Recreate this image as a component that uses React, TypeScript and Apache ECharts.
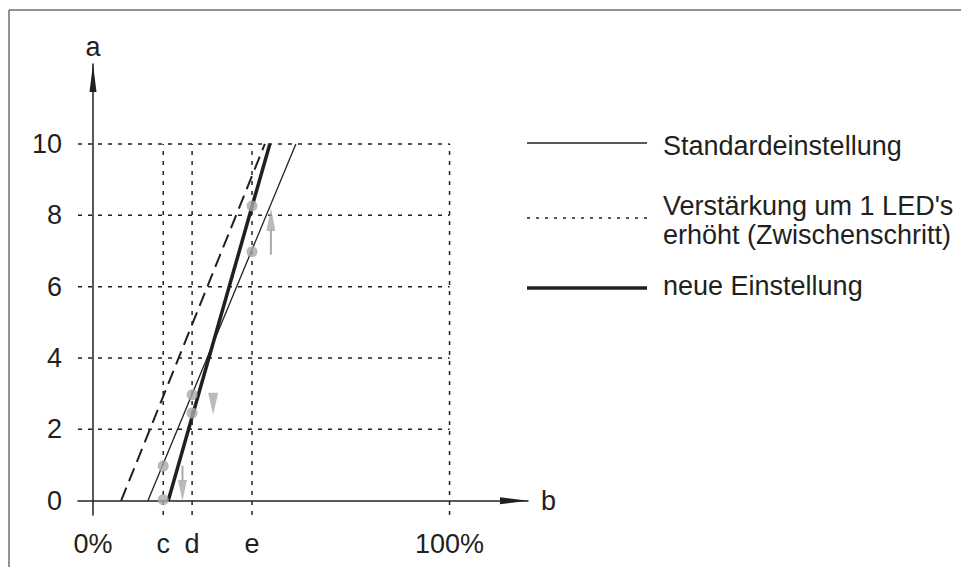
import React, { useEffect, useRef } from "react";
import * as echarts from "echarts";

// Axis extents (x in %, y in units)
const X_MIN = -4.2;
const X_MAX = 122;
const Y_MIN = -0.4;
const Y_MAX = 12.24;

const xTickValues = [0, 19.7, 27.8, 44.6, 100];
const xTickLabels = ["0%", "c", "d", "e", "100%"];
const yTickValues = [0, 2, 4, 6, 8, 10];

const gridYLevels = [2, 4, 6, 8, 10];
const gridXLevels = [19.7, 27.8, 44.6, 100];
const GRID_X_END = 100;
const GRID_Y_END = 10;

const standardLine = [[15.4, 0], [56.9, 10]];
const stepLine = [[7.9, 0], [48.2, 10]];
const newLine = [[21.1, 0], [49.6, 10]];

const dotX = [19.7, 19.7, 27.8, 27.8, 44.6, 44.6];
const dotY = [0.03, 0.97, 2.97, 2.46, 6.98, 8.26];

const upShaft = [[49.9, 6.9], [49.9, 7.6]];
const upHead = [49.9, 7.88];
const downHead1 = [33.7, 2.72];
const downShaft2 = [[25.1, 0.98], [25.1, 0.55]];
const downHead2 = [25.1, 0.29];

const legendLabels = [
  "Standardeinstellung",
  "Verstärkung um 1 LED's",
  "erhöht (Zwischenschritt)",
  "neue Einstellung",
];

const INK = "#231f20";
const GRAY = "#a7a9ac";
const FONT = "Liberation Sans, Arial, sans-serif";
const FS = 27;

export default function App() {
  const ref = useRef<HTMLDivElement>(null);

  useEffect(() => {
    if (!ref.current) return;
    const chart = echarts.init(ref.current, null, { renderer: "svg" });

    const dotted = { color: INK, width: 1.5, type: [4, 6] as any };

    const hGrid = gridYLevels.map((lvl) => ({
      type: "line",
      data: [[X_MIN, lvl], [GRID_X_END, lvl]],
      symbol: "none",
      silent: true,
      z: 1,
      lineStyle: dotted,
    }));
    const vGrid = gridXLevels.map((lvl) => ({
      type: "line",
      data: [[lvl, Y_MIN], [lvl, GRID_Y_END]],
      symbol: "none",
      silent: true,
      z: 1,
      lineStyle: dotted,
    }));

    const option: any = {
      animation: false,
      backgroundColor: "#ffffff",
      grid: { left: 78, right: 961 - 528, top: 64, bottom: 567 - 515, containLabel: false },
      xAxis: {
        type: "value",
        min: X_MIN,
        max: X_MAX,
        name: "b",
        nameLocation: "end",
        nameGap: 13,
        nameTextStyle: { fontSize: FS, color: INK, fontFamily: FONT, verticalAlign: "middle", padding: [5, 0, 0, 0] },
        axisLine: {
          show: true,
          onZero: true,
          symbol: ["none", "triangle"],
          symbolSize: [7, 28],
          symbolOffset: [0, -14],
          lineStyle: { color: INK, width: 1.5 },
        },
        axisTick: { show: false },
        splitLine: { show: false },
        axisLabel: {
          customValues: xTickValues,
          margin: 15,
          fontSize: FS,
          color: INK,
          fontFamily: FONT,
          formatter: (v: number) => {
            const i = xTickValues.findIndex((t) => Math.abs(t - v) < 1e-6);
            return i >= 0 ? xTickLabels[i] : "";
          },
        },
      },
      yAxis: {
        type: "value",
        min: Y_MIN,
        max: Y_MAX,
        name: "a",
        nameLocation: "end",
        nameGap: 4,
        nameTextStyle: { fontSize: FS, color: INK, fontFamily: FONT },
        axisLine: {
          show: true,
          onZero: true,
          symbol: ["none", "triangle"],
          symbolSize: [7, 28],
          symbolOffset: [0, -14],
          lineStyle: { color: INK, width: 1.5 },
        },
        axisTick: { show: false },
        splitLine: { show: false },
        axisLabel: {
          customValues: yTickValues,
          margin: 16,
          fontSize: FS,
          color: INK,
          fontFamily: FONT,
        },
      },
      series: [
        ...hGrid,
        ...vGrid,
        {
          name: "Standardeinstellung",
          type: "line",
          data: standardLine,
          symbol: "none",
          z: 3,
          lineStyle: { color: INK, width: 1.3 },
        },
        {
          name: "Zwischenschritt",
          type: "line",
          data: stepLine,
          symbol: "none",
          z: 3,
          lineStyle: { color: INK, width: 2, type: [14, 7] },
        },
        {
          name: "neue Einstellung",
          type: "line",
          data: newLine,
          symbol: "none",
          z: 3,
          lineStyle: { color: INK, width: 3.5 },
        },
        {
          type: "scatter",
          data: dotX.map((x, i) => [x, dotY[i]]),
          symbol: "circle",
          symbolSize: 11,
          z: 5,
          itemStyle: { color: GRAY },
        },
        {
          type: "line",
          data: upShaft,
          symbol: "none",
          z: 5,
          lineStyle: { color: GRAY, width: 2 },
        },
        {
          type: "line",
          data: downShaft2,
          symbol: "none",
          z: 5,
          lineStyle: { color: GRAY, width: 2 },
        },
        {
          type: "scatter",
          data: [upHead],
          symbol: "triangle",
          symbolSize: [9, 23],
          z: 5,
          itemStyle: { color: GRAY },
        },
        {
          type: "scatter",
          data: [downHead1],
          symbol: "triangle",
          symbolSize: [10, 22],
          symbolRotate: 180,
          z: 5,
          itemStyle: { color: GRAY },
        },
        {
          type: "scatter",
          data: [downHead2],
          symbol: "triangle",
          symbolSize: [9, 21],
          symbolRotate: 180,
          z: 5,
          itemStyle: { color: GRAY },
        },
      ],
      graphic: [
        // frame
        { type: "line", shape: { x1: 9, y1: 10, x2: 961, y2: 10 }, style: { stroke: "#6d6e71", lineWidth: 1.5 } },
        { type: "line", shape: { x1: 9, y1: 10, x2: 9, y2: 567 }, style: { stroke: "#6d6e71", lineWidth: 1.5 } },
        // legend samples
        { type: "line", shape: { x1: 527, y1: 143, x2: 647, y2: 143 }, style: { stroke: INK, lineWidth: 1.3 } },
        { type: "line", shape: { x1: 527, y1: 218, x2: 647, y2: 218 }, style: { stroke: INK, lineWidth: 1.5, lineDash: [3, 6] } },
        { type: "line", shape: { x1: 527, y1: 288, x2: 647, y2: 288 }, style: { stroke: INK, lineWidth: 3.5 } },
        // legend texts
        { type: "text", x: 663, y: 146, style: { text: legendLabels[0], fill: INK, fontSize: FS, fontFamily: FONT, verticalAlign: "middle" } },
        { type: "text", x: 663, y: 206, style: { text: legendLabels[1], fill: INK, fontSize: FS, fontFamily: FONT, verticalAlign: "middle" } },
        { type: "text", x: 663, y: 235, style: { text: legendLabels[2], fill: INK, fontSize: FS, fontFamily: FONT, verticalAlign: "middle" } },
        { type: "text", x: 663, y: 286, style: { text: legendLabels[3], fill: INK, fontSize: FS, fontFamily: FONT, verticalAlign: "middle" } },
      ],
    };

    chart.setOption(option);
    return () => chart.dispose();
  }, []);

  return (
    <div
      ref={ref}
      style={{ position: "fixed", left: 0, top: 0, width: 961, height: 567, background: "#fff" }}
    />
  );
}
